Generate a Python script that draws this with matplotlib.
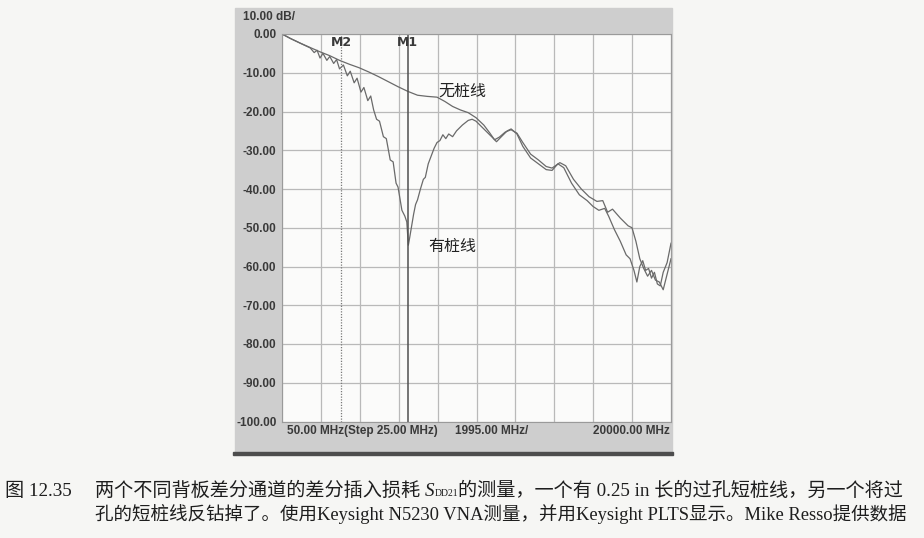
import numpy as np
import matplotlib.pyplot as plt
from matplotlib.patches import Rectangle

# values (MHz, dB)
f_nostub = [50, 500, 1000, 1500, 2000, 2500, 3000, 3500, 4000, 4500, 5000, 5500,
            6000, 6500, 7000, 7500, 8000, 8400, 8800, 9200, 9600, 10000, 10400,
            10700, 10950, 11200, 11500, 11800, 12100, 12400, 12800, 13200, 13600,
            13900, 14300, 14600, 15000, 15400, 15800, 16200, 16500, 16750, 17000,
            17400, 17800, 18000, 18200, 18400, 18600, 18800, 19000, 19200, 19400,
            19600, 19800, 20000]
db_nostub = [0, -1.2, -2.4, -3.5, -4.6, -5.6, -6.8, -7.8, -8.7, -9.8, -11.0, -12.3,
             -13.6, -14.8, -15.8, -16.1, -16.3, -17.4, -18.7, -19.6, -20.3, -21.6, -23.5,
             -25.5, -27.3, -26.6, -25.3, -24.7, -25.6, -28.0, -31.0, -32.5, -34.2,
             -34.6, -33.2, -34.0, -37.5, -40.0, -42.0, -43.2, -43.0, -46.0, -45.2,
             -47.5, -49.5, -50.0, -53.5, -58.0, -60.5, -62.5, -61.0, -63.5, -64.0,
             -66.0, -62.0, -58.0]

f_stub = [50, 500, 1000, 1500, 1700, 1850, 2000, 2150, 2350, 2500, 2700, 2850, 3000,
          3200, 3400, 3550, 3750, 3900, 4100, 4250, 4450, 4600, 4750, 4900, 5050,
          5250, 5400, 5600, 5750, 5900, 6000, 6100, 6200, 6350, 6450, 6530, 6600,
          6700, 6800, 6900, 7000, 7150, 7300, 7400, 7550, 7700, 7850, 8000, 8150,
          8300, 8450, 8600, 8800, 9000, 9300, 9600, 9800, 10000, 10300, 10600,
          10900, 11050, 11300, 11600, 11800, 12100, 12400, 12800, 13200, 13600,
          13900, 14200, 14500, 14900, 15300, 15700, 16000, 16300, 16600, 16800,
          17100, 17400, 17700, 17900, 18100, 18250, 18400, 18550, 18700, 18850,
          19000, 19150, 19300, 19450, 19600, 19800, 20000]
db_stub = [0, -1.2, -2.4, -3.6, -4.8, -4.2, -6.2, -5.0, -6.8, -5.8, -7.6, -6.6, -9.0,
           -8.0, -10.8, -9.6, -12.6, -11.4, -15.0, -13.8, -17.2, -16.0, -19.6, -22.0,
           -22.5, -26.5, -27.0, -32.5, -33.0, -38.5, -39.5, -42.5, -45.5, -47.0,
           -48.5, -54.5, -52.5, -49.5, -46.5, -44.0, -42.8, -40.0, -37.5, -37.0,
           -33.5, -31.5, -29.5, -28.0, -27.5, -26.0, -27.0, -25.8, -26.5, -25.0,
           -23.5, -22.3, -22.0, -22.5, -24.0, -25.5, -27.0, -27.8, -26.5, -25.0,
           -24.5, -25.8, -29.0, -32.0, -33.5, -35.0, -35.2, -33.5, -34.5, -38.5,
           -41.5, -43.0, -44.5, -45.5, -45.0, -47.0, -50.5, -53.5, -57.0, -58.0,
           -61.0, -64.0, -60.0, -58.5, -61.0, -60.5, -63.0, -61.5, -64.5, -65.0,
           -61.5, -59.0, -54.0]

y_ticks = [0, -10, -20, -30, -40, -50, -60, -70, -80, -90, -100]
y_labels = ['0.00', '-10.00', '-20.00', '-30.00', '-40.00', '-50.00',
            '-60.00', '-70.00', '-80.00', '-90.00', '-100.00']
f_start, f_step, f_stop = 50, 1995, 20000
m1_freq, m2_freq = 6500, 3100

cap1a = '图 12.35'
cap1b = '两个不同背板差分通道的差分插入损耗 '
cap1c = '的测量，一个有 0.25 in 长的过孔短桩线，另一个将过'
cap2 = '孔的短桩线反钻掉了。使用Keysight N5230 VNA测量，并用Keysight PLTS显示。Mike Resso提供数据'

W, H = 924, 538
fig = plt.figure(figsize=(W / 100, H / 100), dpi=100, facecolor='#f6f6f4')

# grey instrument panel behind the axes
fig.patches.append(Rectangle((235 / W, 1 - 452 / H), 437 / W, 444 / H,
                             transform=fig.transFigure, color='#cecece', zorder=-2))
fig.patches.append(Rectangle((233 / W, 1 - 455 / H), 440 / W, 3 / H,
                             transform=fig.transFigure, color='#4d4d4d', zorder=-2))

ax = fig.add_axes([282 / W, 1 - 421.5 / H, 389 / W, 387.5 / H], zorder=1)
ax.set_facecolor('#fbfbfa')
ax.set_xlim(f_start, f_stop)
ax.set_ylim(-100, 0)
ax.set_xticks(np.arange(f_start, f_stop + 1, f_step))
ax.set_xticklabels([])
ax.set_yticks(y_ticks)
ax.set_yticklabels(y_labels, family='Liberation Sans', fontsize=8.5,
                   color='#3a3a3a', fontweight='bold')
ax.tick_params(length=0, pad=4)
ax.grid(color='#b9b9b9', lw=0.9)
for s in ax.spines.values():
    s.set_color('#9a9a9a')
    s.set_linewidth(0.8)

ax.plot(f_nostub, db_nostub, color='#6a6a6a', lw=0.9)
ax.plot(f_stub, db_stub, color='#6a6a6a', lw=0.9)

# markers
ax.axvline(m2_freq, color='#7a7a7a', lw=0.9, ls=(0, (1, 1.2)))
ax.axvline(m1_freq, color='#505050', lw=1.1)
for fm, lab in [(m2_freq, 'M2'), (m1_freq, 'M1')]:
    ax.text(fm, -0.5, lab, ha='center', va='top', fontsize=9, fontweight='bold',
            color='#3a3a3a', family='Liberation Sans Narrow')

ax.text(8050, -14.7, '无桩线', fontsize=11.5, family='Noto Sans CJK SC',
        color='#222222', va='center')
ax.text(7550, -54.8, '有桩线', fontsize=11.5, family='Noto Sans CJK SC',
        color='#222222', va='center')

lbl = dict(family='Liberation Sans', fontsize=8.5, color='#3a3a3a', fontweight='bold',
           transform=ax.transAxes, va='center')
ax.text(0.013, -0.025, '50.00 MHz(Step 25.00 MHz)', ha='left', **lbl)
ax.text(0.445, -0.025, '1995.00 MHz/', ha='left', **lbl)
ax.text(0.997, -0.025, '20000.00 MHz', ha='right', **lbl)
fig.text(243 / W, 1 - 17 / H, '10.00 dB/', family='Liberation Sans', fontsize=8.5,
         color='#3a3a3a', fontweight='bold', va='center')

# caption, pieces chained left to right
serif = ['Liberation Serif', 'Noto Sans CJK SC']
r = fig.canvas.get_renderer()


def chain(x, y, pieces):
    for s, kw in pieces:
        t = fig.text(x / W, 1 - y / H, s, va='baseline', color='#1e1e1e', **kw)
        x = t.get_window_extent(renderer=r).x1


c1, c2 = 13.8, 13.3
chain(5, 496, [(cap1a, dict(family=serif, fontsize=c1))])
chain(95, 496, [(cap1b, dict(family=serif, fontsize=c1)),
                ('S', dict(family='Liberation Serif', fontsize=c1, style='italic')),
                ('DD21', dict(family='Liberation Serif', fontsize=7)),
                (cap1c, dict(family=serif, fontsize=c1))])
chain(95, 520, [(cap2, dict(family=serif, fontsize=c2))])

fig.savefig('out.png', dpi=100, facecolor=fig.get_facecolor())
